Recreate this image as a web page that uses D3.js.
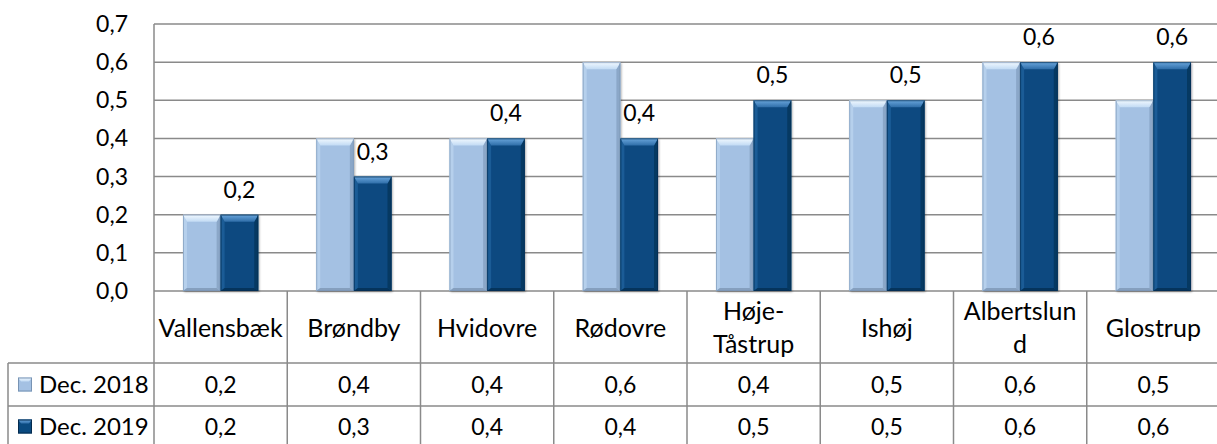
<!DOCTYPE html>
<html><head><meta charset="utf-8">
<script src="https://cdn.jsdelivr.net/npm/d3@7"></script>
<style>
html,body{margin:0;padding:0;background:#fff;}
svg{display:block;font-family:Lato,"Open Sans",sans-serif;}
</style></head>
<body>
<svg id="chart" width="1217" height="444"></svg>
<script>
const categories = ["Vallensbæk","Brøndby","Hvidovre","Rødovre","Høje-Tåstrup","Ishøj","Albertslund","Glostrup"];
const headerLines = [["Vallensbæk"],["Brøndby"],["Hvidovre"],["Rødovre"],["Høje-","Tåstrup"],["Ishøj"],["Albertslun","d"],["Glostrup"]];
const seriesNames = ["Dec. 2018","Dec. 2019"];
const dec2018 = [0.2,0.4,0.4,0.6,0.4,0.5,0.6,0.5];
const dec2019 = [0.2,0.3,0.4,0.4,0.5,0.5,0.6,0.6];
const yTicks = [0,0.1,0.2,0.3,0.4,0.5,0.6,0.7];

(function(){
const series = [dec2018, dec2019];
const fmt = v => d3.format(".1f")(v).replace(".", ",");

const svg = d3.select("#chart");
const W = 1217, H = 444;
const pL = 154, pR = 1220, pT = 24, pB = 291;
const gridColor = "#8a8a8a";
const fontSize = 23, textSize = 25;

const x = d3.scaleBand().domain(categories).range([pL, pR]).padding(0);
const y = d3.scaleLinear().domain([0, 0.7]).range([pB, pT]);
const groupW = x.bandwidth() * 0.565;
const xs = d3.scaleBand().domain([0,1]).range([(x.bandwidth()-groupW)/2, (x.bandwidth()+groupW)/2]).padding(0);

const defs = svg.append("defs");
function grad(id, c1, c2){
  const g = defs.append("linearGradient").attr("id", id)
    .attr("x1",0).attr("y1",0).attr("x2",0).attr("y2",1);
  g.append("stop").attr("offset","0%").attr("stop-color",c1);
  g.append("stop").attr("offset","100%").attr("stop-color",c2);
}
const palettes = [
  {base:"#a4c1e3", top:["#f2f9ff","#c2dbf4"], left:"#b6d0ec", right:"#8ba7c8", bottom:"#859fbe", edge:"#7893b3"},
  {base:"#0a4a80", top:["#6aa6dc","#2f6ea9"], left:"#1b5c96", right:"#063962", bottom:"#05345c", edge:"#042b4e"}
];
palettes.forEach((p,i)=>grad("topg"+i, p.top[0], p.top[1]));

const filt = defs.append("filter").attr("id","shadow").attr("x","-20%").attr("y","-10%").attr("width","140%").attr("height","120%");
filt.append("feDropShadow").attr("dx",1).attr("dy",1).attr("stdDeviation",1.2).attr("flood-color","#000").attr("flood-opacity",0.35);

// gridlines
svg.append("g").selectAll("line").data(yTicks).join("line")
  .attr("x1", pL).attr("x2", W).attr("y1", d=>y(d)).attr("y2", d=>y(d))
  .attr("stroke", gridColor).attr("stroke-width", 1.5);
// y axis line
svg.append("line").attr("x1", pL).attr("x2", pL).attr("y1", y(0.7)).attr("y2", H)
  .attr("stroke", gridColor).attr("stroke-width", 1.5);

// y labels
svg.append("g").selectAll("text").data(yTicks).join("text")
  .attr("x", 128).attr("y", d=>y(d)).attr("dy","0.35em").attr("text-anchor","end")
  .attr("font-size", fontSize).attr("fill","#000").text(d=>fmt(d));

// bars
const bars = svg.append("g");
categories.forEach((c,ci)=>{
  series.forEach((s,si)=>{
    const p = palettes[si];
    const x0 = x(c) + xs(si), w = xs.bandwidth();
    const y0 = y(s[ci]), y1 = y(0);
    const t = 7, sd = 4, b = 3;
    const g = bars.append("g");
    g.append("rect").attr("x",x0).attr("y",y0).attr("width",w).attr("height",y1-y0)
      .attr("fill",p.base).attr("filter","url(#shadow)");
    g.append("polygon").attr("points",[[x0,y0],[x0+sd,y0+t],[x0+sd,y1-b],[x0,y1]].join(" ")).attr("fill",p.left);
    g.append("polygon").attr("points",[[x0+w,y0],[x0+w-sd,y0+t],[x0+w-sd,y1-b],[x0+w,y1]].join(" ")).attr("fill",p.right);
    g.append("polygon").attr("points",[[x0,y1],[x0+sd,y1-b],[x0+w-sd,y1-b],[x0+w,y1]].join(" ")).attr("fill",p.bottom);
    g.append("polygon").attr("points",[[x0,y0],[x0+w,y0],[x0+w-sd,y0+t],[x0+sd,y0+t]].join(" ")).attr("fill","url(#topg"+si+")");
    g.append("rect").attr("x",x0+0.5).attr("y",y0+0.5).attr("width",w-1).attr("height",y1-y0-1)
      .attr("fill","none").attr("stroke",p.edge).attr("stroke-width",1).attr("stroke-opacity",0.6);
  });
});

// data labels for Dec. 2019
svg.append("g").selectAll("text").data(categories).join("text")
  .attr("x", c=>x(c)+xs(1)+xs.bandwidth()/2)
  .attr("y", (c,i)=>y(dec2019[i]) - 17)
  .attr("text-anchor","middle").attr("font-size",fontSize).attr("fill","#000")
  .text((c,i)=>fmt(dec2019[i]));

// data table
const rowTop = 291, row1 = 363, row2 = 406, row3 = 449;
const tbl = svg.append("g").attr("stroke", gridColor).attr("stroke-width",1.5);
tbl.selectAll("line.v").data(categories.slice(1)).join("line").attr("class","v")
  .attr("x1", c=>x(c)).attr("x2", c=>x(c)).attr("y1", rowTop).attr("y2", H);
tbl.append("line").attr("x1",8).attr("x2",8).attr("y1",row1).attr("y2",H);
tbl.append("line").attr("x1",8).attr("x2",W).attr("y1",row1).attr("y2",row1);
tbl.append("line").attr("x1",8).attr("x2",W).attr("y1",row2).attr("y2",row2);

// header text
const hdr = svg.append("g");
categories.forEach((c,ci)=>{
  const lines = headerLines[ci];
  const cy = (rowTop+row1)/2 + 1;
  const lh = 33;
  lines.forEach((ln,li)=>{
    hdr.append("text").attr("x", x(c)+x.bandwidth()/2)
      .attr("y", cy + (li - (lines.length-1)/2)*lh).attr("dy","0.35em")
      .attr("text-anchor","middle").attr("font-size",textSize).attr("fill","#000").text(ln);
  });
});

// rows
const rowCenters = [(row1+row2)/2, (row2+row3)/2 - 1];
series.forEach((s,si)=>{
  const p = palettes[si];
  const cy = rowCenters[si];
  const k = 14, kx = 18, ky = cy - k/2;
  svg.append("rect").attr("x",kx).attr("y",ky).attr("width",k).attr("height",k).attr("fill",p.base);
  svg.append("polygon").attr("points",[[kx,ky],[kx+k,ky],[kx+k-3,ky+4],[kx+3,ky+4]].join(" ")).attr("fill","url(#topg"+si+")");
  svg.append("rect").attr("x",kx+0.5).attr("y",ky+0.5).attr("width",k-1).attr("height",k-1).attr("fill","none").attr("stroke",p.edge).attr("stroke-width",1);
  svg.append("text").attr("x",39).attr("y",cy).attr("dy","0.35em").attr("font-size",textSize - 1).attr("fill","#000").text(seriesNames[si]);
  svg.append("g").selectAll("text").data(categories).join("text")
    .attr("x", c=>x(c)+x.bandwidth()/2).attr("y", cy).attr("dy","0.35em")
    .attr("text-anchor","middle").attr("font-size",fontSize).attr("fill","#000")
    .text((c,i)=>fmt(s[i]));
});
})();
</script>
</body></html>
